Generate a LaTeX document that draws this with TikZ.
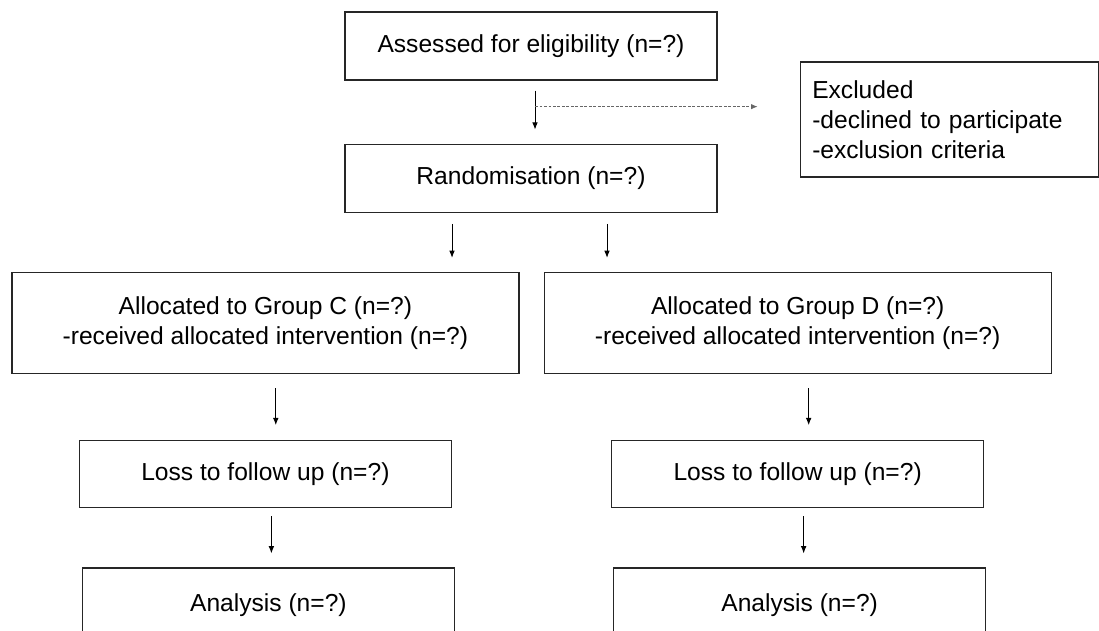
\documentclass[tikz,border=0pt]{standalone}
\usepackage{fontspec}
\setmainfont{Liberation Sans}
\usepackage{tikz}
\usetikzlibrary{arrows.meta,positioning}
\tikzset{
  box/.style={draw=black!85, line width=0.9pt, minimum width=9.3cm, minimum height=1.7cm,
              align=center, inner sep=2pt},
  widebox/.style={box, minimum width=12.675cm, minimum height=2.525cm},
  sidebox/.style={draw=black!85, line width=0.9pt, text width=6.85cm, inner xsep=0.3cm,
                  minimum height=2.875cm, align=left},
  flow/.style={-{Latex[length=1.8mm,width=1.4mm]}, line width=0.7pt},
  softflow/.style={-{Latex[length=1.6mm,width=1.3mm]}, line width=0.6pt, black!60,
                   dash pattern=on 2pt off 1.2pt}
}

\begin{document}
\begin{tikzpicture}[every node/.style={font=\fontsize{17.5}{21.3}\selectfont}]
  \useasboundingbox (0,0) rectangle (27.475,-15.75);
  \clip (0,0) rectangle (27.475,-15.75);
  \node[box] (assess) at (13.275,-1.15) {Assessed for eligibility (n=?)};
  \node[box, below=1.575cm of assess] (rand) {Randomisation (n=?)};
  \node[sidebox, right=2.05cm of assess, yshift=-1.84cm] (excl) {Excluded\\-declined to participate\\-exclusion criteria};
  \node[widebox, below=1.475cm of rand, xshift=-6.64cm] (grpC) {Allocated to Group C (n=?)\\-received allocated intervention (n=?)};
  \node[widebox, right=0.6cm of grpC] (grpD) {Allocated to Group D (n=?)\\-received allocated intervention (n=?)};
  \node[box, minimum height=1.675cm, below=1.65cm of grpC] (lossC) {Loss to follow up (n=?)};
  \node[box, minimum height=1.675cm, below=1.65cm of grpD] (lossD) {Loss to follow up (n=?)};
  \node[box, minimum height=1.85cm, below=1.475cm of lossC, xshift=0.075cm] (anaC) {Analysis (n=?)};
  \node[box, minimum height=1.85cm, below=1.475cm of lossD, xshift=0.05cm] (anaD) {Analysis (n=?)};
  % screening
  \draw[flow, shorten <=0.25cm, shorten >=0.35cm] ([xshift=0.1cm]assess.south) -- ([xshift=0.1cm]rand.north);
  \coordinate (split) at ([xshift=0.1cm, yshift=-0.65cm]assess.south);
  \coordinate (exclin) at ([xshift=-1.05cm]excl.west |- split);
  \draw[softflow] (split) -- (exclin);
  % allocation
  \draw[flow, shorten <=0.275cm, shorten >=0.35cm] ([xshift=-1.975cm]rand.south) -- ([xshift=-1.975cm]rand.south |- grpC.north);
  \draw[flow, shorten <=0.275cm, shorten >=0.35cm] ([xshift=1.9cm]rand.south) -- ([xshift=1.9cm]rand.south |- grpD.north);
  % follow up
  \draw[flow, shorten <=0.35cm, shorten >=0.375cm] ([xshift=0.26cm]grpC.south) -- ([xshift=0.26cm]grpC.south |- lossC.north);
  \draw[flow, shorten <=0.35cm, shorten >=0.375cm] ([xshift=0.275cm]grpD.south) -- ([xshift=0.275cm]grpD.south |- lossD.north);
  \draw[flow, shorten <=0.2cm, shorten >=0.35cm] ([xshift=0.15cm]lossC.south) -- ([xshift=0.15cm]lossC.south |- anaC.north);
  \draw[flow, shorten <=0.2cm, shorten >=0.35cm] ([xshift=0.15cm]lossD.south) -- ([xshift=0.15cm]lossD.south |- anaD.north);
\end{tikzpicture}
\end{document}
